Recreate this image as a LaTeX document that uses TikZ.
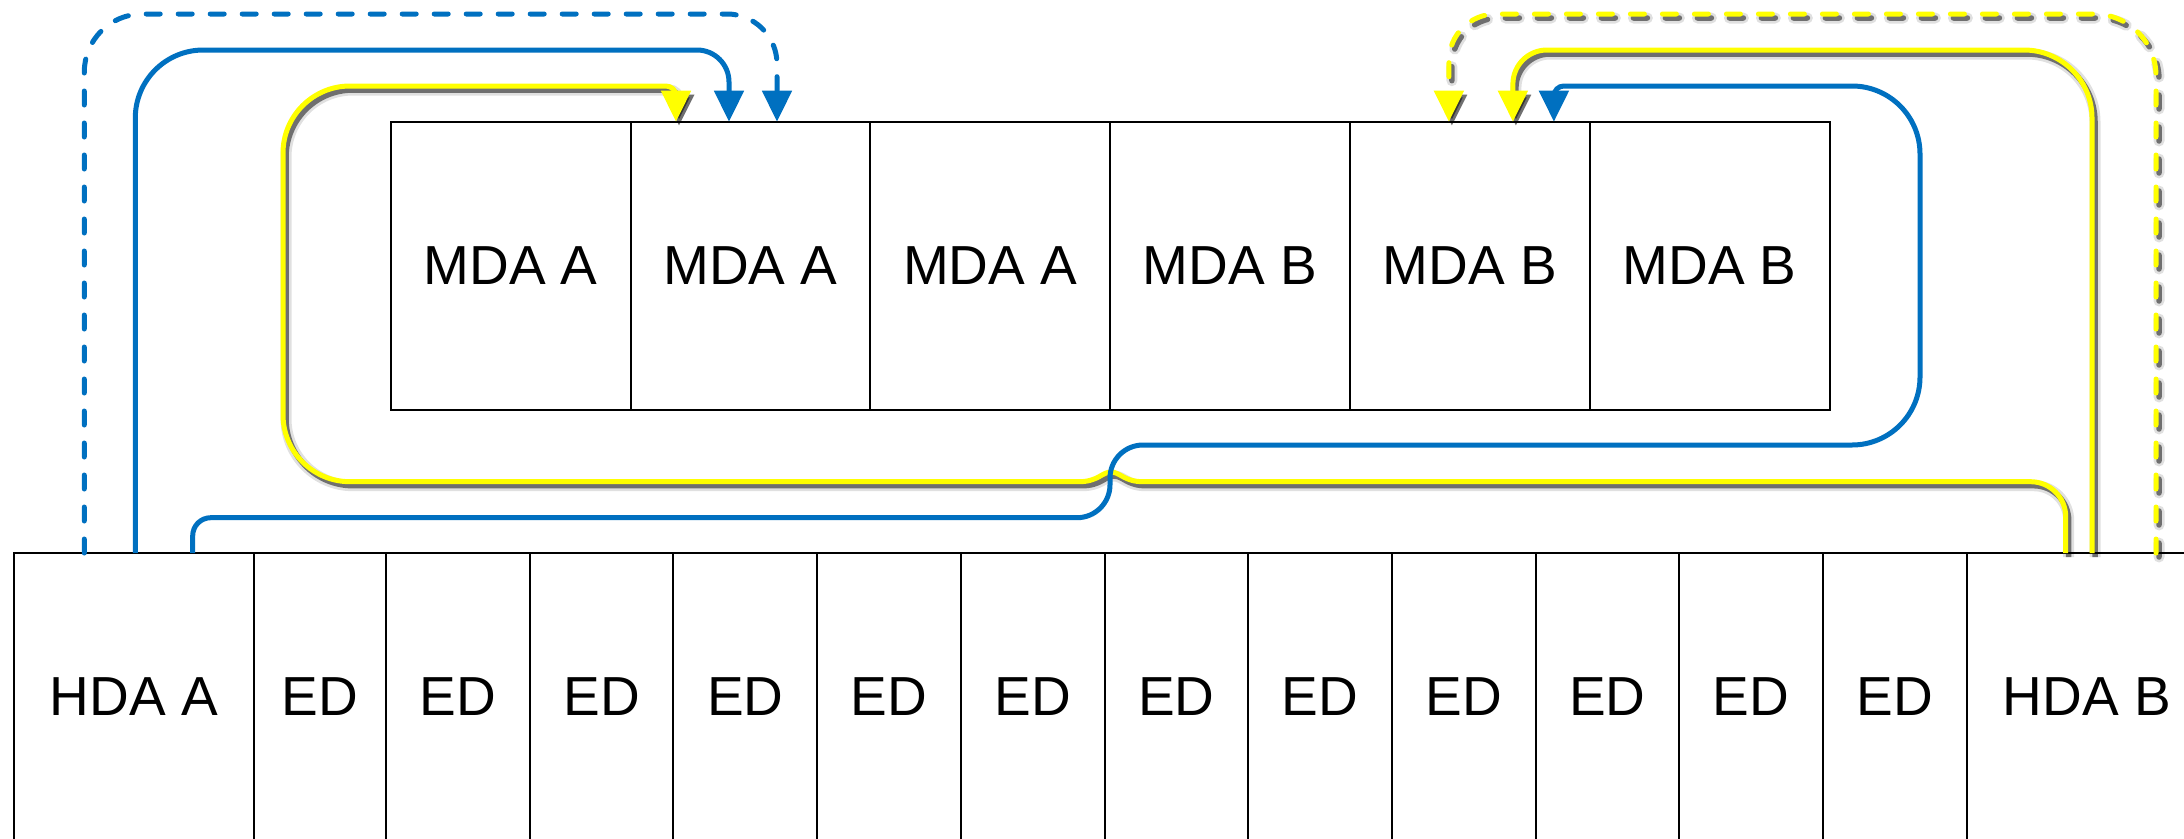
\documentclass[tikz,border=0pt]{standalone}
\usepackage{fontspec}
\setmainfont{Liberation Sans}
\usepackage{tikz}
\usetikzlibrary{arrows.meta,calc,positioning}

\definecolor{linkblue}{RGB}{0,112,192}
\definecolor{linkyellow}{RGB}{255,255,0}

\begin{document}
\begin{tikzpicture}[
x=1pt,y=-1pt,
slot/.style={draw,line width=2pt,inner sep=0pt,outer sep=0pt,minimum height=287pt,font=\fontsize{55}{60}\selectfont},
mda/.style={slot,minimum width=239.8pt,minimum height=287.8pt},
ed/.style={slot,minimum width=143.7pt},
hda/.style={slot,minimum width=240pt},
link/.style={line width=5pt,-{Triangle[length=31pt,width=29pt]}},
dashlink/.style={dash pattern=on 14pt off 18pt,line cap=round},
bluelink/.style={link,draw=linkblue,#1},
bluelink/.default={},
yellowlink/.style={link,draw=linkyellow,#1,
  preaction={draw=black,opacity=0.12,line width=11pt,transform canvas={shift={(3pt,-4pt)}},#1},
  preaction={draw=black,opacity=0.5,line width=5.5pt,transform canvas={shift={(3pt,-4pt)}},#1}},
yellowlink/.default={},
]
\useasboundingbox (0,0) rectangle (2184,838);
\fill[white] (0,0) rectangle (2184,838);

\node[mda] (mda1) at (510.6,265.6) {MDA A};
\node[mda,right=0pt of mda1] (mda2) {MDA A};
\node[mda,right=0pt of mda2] (mda3) {MDA A};
\node[mda,right=0pt of mda3] (mda4) {MDA B};
\node[mda,right=0pt of mda4] (mda5) {MDA B};
\node[mda,right=0pt of mda5] (mda6) {MDA B};

\node[hda] (hdaA) at (134,696.5) {HDA A};
\node[ed,minimum width=132pt,right=0pt of hdaA] (ed1) {ED};
\foreach \i [count=\j] in {2,...,12}
  \node[ed,right=0pt of ed\j] (ed\i) {ED};
\node[hda,right=0pt of ed12] (hdaB) {HDA B};

\coordinate (aOut1) at ($(hdaA.north west)+(70.3,0)$);
\coordinate (aOut2) at ($(hdaA.north west)+(121.3,0)$);
\coordinate (aOut3) at ($(hdaA.north west)+(178.7,0)$);
\coordinate (bOut1) at ($(hdaB.north west)+(99,0)$);
\coordinate (bOut2) at ($(hdaB.north west)+(125.3,0)$);
\coordinate (bOut3) at ($(hdaB.north west)+(189.3,0)$);
\coordinate (aIn1) at ($(mda2.north west)+(45.5,0)$);
\coordinate (aIn2) at ($(mda2.north west)+(98.5,0)$);
\coordinate (aIn3) at ($(mda2.north west)+(146.5,0)$);
\coordinate (bIn1) at ($(mda5.north west)+(99,0)$);
\coordinate (bIn2) at ($(mda5.north west)+(163,0)$);
\coordinate (bIn3) at ($(mda5.north west)+(204,0)$);

\draw[yellowlink=dashlink,rounded corners=62pt] (bOut3) -- (bOut3 |- 0,14) [rounded corners=47pt] -- (bIn1 |- 0,14) -- (bIn1);
\draw[yellowlink,rounded corners=68pt] (bOut2) -- (bOut2 |- 0,50) [rounded corners=34pt] -- (bIn2 |- 0,50) -- (bIn2);
\draw[yellowlink,rounded corners=35pt] (bOut1) -- (bOut1 |- 0,481.7) [sharp corners] -- (1143,481.7)
  .. controls (1124,481.7) and (1120,472) .. (1111,472)
  .. controls (1102,472) and (1098,481.7) .. (1079,481.7)
  [rounded corners=67pt] -- (283,481.7) -- (283,86) [rounded corners=10pt] -- (aIn1 |- 0,86) -- (aIn1);

\draw[bluelink=dashlink,rounded corners=58pt] (aOut1) -- (aOut1 |- 0,14) [rounded corners=50pt] -- (aIn3 |- 0,14) -- (aIn3);
\draw[bluelink,rounded corners=68pt] (aOut2) -- (aOut2 |- 0,50) [rounded corners=32pt] -- (aIn2 |- 0,50) -- (aIn2);
\draw[bluelink,rounded corners=18pt] (aOut3) -- (aOut3 |- 0,517.7) [rounded corners=33pt] -- (1110,517.7)
  -- (1110,445) [rounded corners=68pt] -- (1920,445) -- (1920,86) [rounded corners=10pt] -- (bIn3 |- 0,86) -- (bIn3);
\end{tikzpicture}
\end{document}
